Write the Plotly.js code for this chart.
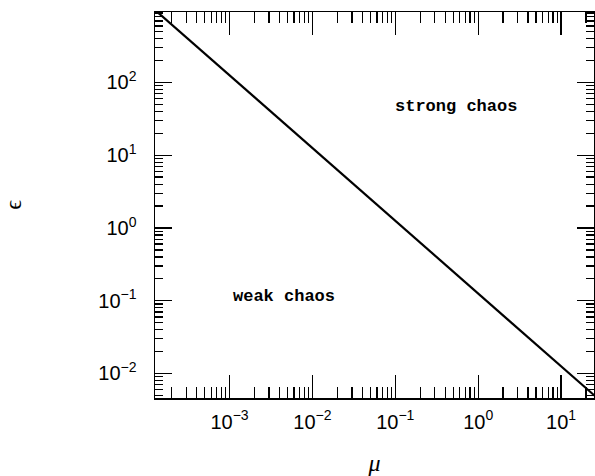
<!DOCTYPE html>
<html>
<head>
<meta charset="utf-8">
<script src="https://cdn.plot.ly/plotly-3.0.1.min.js"></script>
<style>
  html, body { margin: 0; padding: 0; background: #fff; }
  #chart { width: 595px; height: 476px; }
</style>
</head>
<body>
<div id="chart"></div>
<script>
// Boundary between weak and strong chaos in the (mu, epsilon) plane
const mu  = [1e-4, 1e-3, 1e-2, 1e-1, 1, 10, 30];
const eps = [1250, 125, 12.5, 1.25, 0.125, 0.0125, 0.0042];

// Decade ticks and their labels
const xTickVals = [1e-3, 1e-2, 1e-1, 1, 10];
const xTickText = ['10<sup>−3</sup>', '10<sup>−2</sup>', '10<sup>−1</sup>', '10<sup>0</sup>', '10<sup>1</sup>'];
const yTickVals = [1e-2, 1e-1, 1, 10, 100];
const yTickText = ['10<sup>−2</sup>', '10<sup>−1</sup>', '10<sup>0</sup>', '10<sup>1</sup>', '10<sup>2</sup>'];

// Region labels
const regionText = ['strong chaos', 'weak chaos'];
const regionMu   = [0.54, 0.0045];
const regionEps  = [47, 0.113];

// minor ticks at 2..9 inside each decade
function minorTicks(d0, d1) {
  const out = [];
  for (let d = d0; d <= d1; d++) {
    for (let k = 2; k <= 9; k++) out.push(k * Math.pow(10, d));
  }
  return out;
}

const tickFont = { family: 'Liberation Sans, Arial, sans-serif', size: 20, color: '#000' };

const trace = {
  x: mu, y: eps,
  type: 'scatter', mode: 'lines',
  line: { color: '#000', width: 2.2 },
  hoverinfo: 'skip'
};

const layout = {
  width: 595, height: 476,
  margin: { l: 155, r: 1, t: 12, b: 78, pad: 0 },
  paper_bgcolor: '#fff', plot_bgcolor: '#fff',
  showlegend: false,
  xaxis: {
    type: 'log',
    range: [Math.log10(1.26e-4), Math.log10(25)],
    tickmode: 'array', tickvals: xTickVals, ticktext: xTickText,
    ticks: 'inside', ticklen: 23, tickwidth: 1.3, tickcolor: '#000',
    minor: { tickmode: 'array', tickvals: minorTicks(-4, 1), ticks: 'inside', ticklen: 11, tickwidth: 1.3, tickcolor: '#000', showgrid: false },
    showline: true, linecolor: '#000', linewidth: 1.5, mirror: 'allticks',
    showgrid: false, zeroline: false,
    tickfont: tickFont, ticklabelstandoff: 5,
    automargin: false,
    title: { text: 'μ', font: { family: 'Liberation Serif, serif', size: 24, color: '#000', style: 'italic' }, standoff: 27 }
  },
  yaxis: {
    type: 'log',
    range: [Math.log10(4.6e-3), Math.log10(930)],
    tickmode: 'array', tickvals: yTickVals, ticktext: yTickText,
    ticks: 'inside', ticklen: 17, tickwidth: 1.3, tickcolor: '#000',
    minor: { tickmode: 'array', tickvals: minorTicks(-3, 2), ticks: 'inside', ticklen: 8, tickwidth: 1.3, tickcolor: '#000', showgrid: false },
    showline: true, linecolor: '#000', linewidth: 1.5, mirror: 'allticks',
    showgrid: false, zeroline: false,
    tickfont: tickFont, ticklabelstandoff: 13,
    automargin: false,
    title: { text: 'ϵ', font: { family: 'Liberation Serif, serif', size: 24, color: '#000' }, standoff: 70 }
  },
  annotations: regionText.map((t, i) => ({
    x: Math.log10(regionMu[i]), y: Math.log10(regionEps[i]),
    xref: 'x', yref: 'y', text: t, showarrow: false,
    font: { family: 'Liberation Mono, DejaVu Sans Mono, monospace', size: 17, color: '#000', weight: 'bold' }
  }))
};

Plotly.newPlot('chart', [trace], layout, { staticPlot: true, displayModeBar: false });
</script>
</body>
</html>
